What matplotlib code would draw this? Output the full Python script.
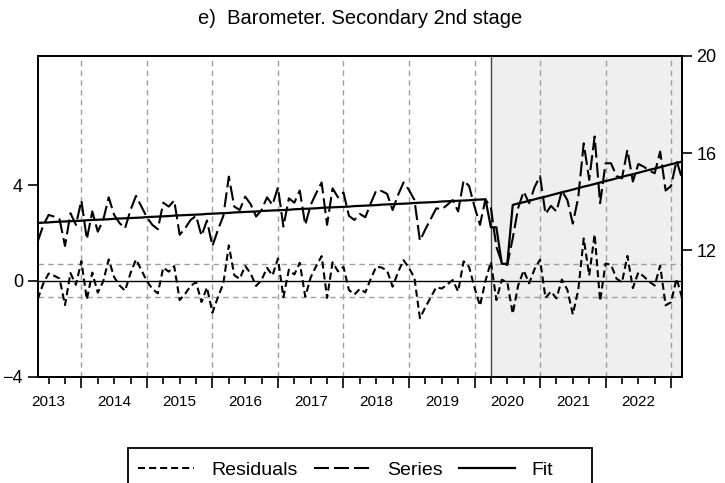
import numpy as np
import matplotlib
matplotlib.use('Agg')
import matplotlib.pyplot as plt
from matplotlib.lines import Line2D
from matplotlib.patches import Rectangle

plt.rcParams['font.family'] = ['Liberation Sans', 'DejaVu Sans']

# monthly observations, 2013M05 .. 2023M03 (right axis)
series = [12.36, 13.02, 13.46, 13.39, 13.28, 12.18, 13.53, 13.05, 14.05, 12.46,
          13.60, 12.77, 13.25, 14.18, 13.46, 13.12, 12.91, 13.66, 14.24, 13.80,
          13.36, 13.05, 12.87, 13.96, 13.80, 14.05, 12.64, 12.91, 13.25, 13.42,
          12.60, 13.23, 12.18, 12.84, 13.42, 15.03, 13.80, 13.66, 14.21, 13.90,
          13.39, 13.66, 14.18, 13.87, 14.59, 12.98, 14.14, 13.96, 14.46, 13.05,
          13.87, 14.35, 14.79, 13.05, 14.55, 14.18, 14.38, 13.42, 13.25, 13.50,
          13.36, 13.94, 14.46, 14.44, 14.32, 13.66, 14.28, 14.79, 14.48, 14.07,
          12.40, 12.87, 13.30, 13.73, 13.69, 13.87, 14.07, 13.60, 14.87, 14.65,
          13.80, 13.05, 14.10, 13.75, 12.15, 11.50, 11.40, 12.50, 13.75, 14.42,
          13.94, 14.60, 15.05, 13.50, 13.83, 13.60, 14.45, 14.07, 13.10, 14.18,
          16.40, 14.90, 16.68, 13.94, 15.58, 15.58, 15.06, 14.96, 16.13, 14.83,
          15.55, 15.44, 15.28, 15.17, 16.06, 14.46, 14.65, 15.69, 14.95]

fit = [13.13, 13.14, 13.15, 13.17, 13.18, 13.19, 13.20, 13.21, 13.22, 13.24,
       13.25, 13.26, 13.27, 13.28, 13.30, 13.31, 13.32, 13.33, 13.34, 13.35,
       13.37, 13.38, 13.39, 13.40, 13.41, 13.43, 13.44, 13.45, 13.46, 13.47,
       13.48, 13.50, 13.51, 13.52, 13.53, 13.54, 13.56, 13.57, 13.58, 13.59,
       13.60, 13.62, 13.63, 13.64, 13.65, 13.66, 13.67, 13.69, 13.70, 13.71,
       13.72, 13.73, 13.75, 13.76, 13.77, 13.78, 13.79, 13.80, 13.82, 13.83,
       13.84, 13.85, 13.86, 13.88, 13.89, 13.90, 13.91, 13.92, 13.93, 13.95,
       13.96, 13.97, 13.98, 13.99, 14.01, 14.02, 14.03, 14.04, 14.05, 14.06,
       14.08, 14.09, 14.10, 12.95, 12.95, 11.45, 11.45, 13.87, 13.93, 13.98,
       14.04, 14.10, 14.16, 14.21, 14.27, 14.33, 14.39, 14.44, 14.50, 14.56,
       14.62, 14.67, 14.73, 14.79, 14.85, 14.90, 14.96, 15.02, 15.08, 15.13,
       15.19, 15.25, 15.31, 15.36, 15.42, 15.48, 15.54, 15.59, 15.65]

years = ['2013', '2014', '2015', '2016', '2017', '2018', '2019', '2020', '2021', '2022']
se = 0.69           # +/- 1 S.E. band for residuals
shade_from = 83     # 2020M04
first_jan = 8       # index of 2014M01

series = np.array(series)
fit = np.array(fit)
resid = series - fit
x = np.arange(len(series))
n = len(series)

res_ls = (0, (3.4, 1.9))
ser_ls = (0, (7.2, 2.4))

fig = plt.figure(figsize=(7.25, 4.83), dpi=100)
ax = fig.add_axes([0.052, 0.2195, 0.8887, 0.6652])
ax2 = ax.twinx()

ax.set_xlim(0, n - 1)
ax.set_ylim(-4.02, 9.43)
ax2.set_ylim(6.8, 20)

# shaded sample + border line
ax.axvspan(shade_from, n - 1, color='#efefef', zorder=0, lw=0)
ax.axvline(shade_from, color='#444444', lw=1, zorder=1)

# year grid
jans = np.arange(first_jan, n, 12)
for j in jans:
    ax.axvline(j, color='#a0a0a0', lw=1, ls=(0, (4, 3)), zorder=1)

ax.axhline(0, color='black', lw=1, zorder=2)
for s in (se, -se):
    ax.axhline(s, color='#a0a0a0', lw=1, ls=(0, (4, 3)), zorder=1)

ax.plot(x, resid, color='black', lw=1.5, ls=res_ls, zorder=3)
ax2.plot(x, series, color='black', lw=1.5, ls=ser_ls, zorder=3)
ax2.plot(x, fit, color='black', lw=1.6, zorder=4)

# ticks
ax.set_xticks(jans)
ax.set_xticks(np.arange(2, n, 3), minor=True)
ax.tick_params(axis='x', which='major', length=8, width=1.2, labelbottom=False)
ax.tick_params(axis='x', which='minor', length=5, width=1.2)
ax.set_yticks([-4, 0, 4])
ax.tick_params(axis='y', length=7, width=1.2, labelsize=13, pad=3.5)
ax2.set_yticks([12, 16, 20])
ax2.tick_params(axis='y', length=7, width=1.2, labelsize=13, pad=3.5)

for k, yr in enumerate(years):
    ax.text(first_jan - 6 + 12 * k, -0.078, yr, transform=ax.get_xaxis_transform(),
            ha='center', va='center', fontsize=11)

for a in (ax, ax2):
    for sp in a.spines.values():
        sp.set_linewidth(1.3)

fig.text(0.4966, 1 - 18 / 483, 'e)  Barometer. Secondary 2nd stage',
         ha='center', va='center', fontsize=14.5)

# legend box (runs off the bottom edge, as in the source)
fig.add_artist(Rectangle((128 / 725, 1 - 495 / 483), (592 - 128) / 725, 47 / 483,
                         transform=fig.transFigure, fill=False, lw=1.3,
                         ec='black', clip_on=False))
handles = [Line2D([], [], color='black', lw=1.5, ls=res_ls),
           Line2D([], [], color='black', lw=1.5, ls=ser_ls),
           Line2D([], [], color='black', lw=1.6)]
fig.legend(handles, ['Residuals', 'Series', 'Fit'], loc='center left',
           bbox_to_anchor=(138 / 725, 1 - 470 / 483), ncol=3, fontsize=14,
           frameon=False, handlelength=2.9, columnspacing=0.85,
           handletextpad=0.85, borderpad=0, borderaxespad=0)

fig.savefig('out.png', dpi=100)
